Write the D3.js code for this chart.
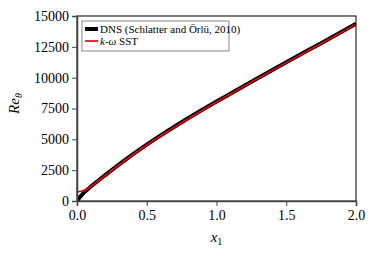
<!DOCTYPE html>
<html>
<head>
<meta charset="utf-8">
<script src="https://cdn.jsdelivr.net/npm/d3@7"></script>
<style>
  body { margin: 0; background: #fff; }
  text { font-family: "Liberation Serif", "Times New Roman", serif; }
</style>
</head>
<body>
<div class="chart"></div>
<script>
// DNS (Schlatter and Orlu, 2010)
const dnsX  = [0, 0.02, 0.05, 0.1, 0.2, 0.3, 0.4, 0.5, 0.6, 0.75, 1.0, 1.25, 1.5, 1.75, 2.0];
const dnsRe = [0, 300, 680, 1170, 2080, 2950, 3780, 4570, 5320, 6385, 8060, 9670, 11250, 12800, 14370];
// k-omega SST
const sstX  = [0, 0.03, 0.06, 0.1, 0.15, 0.2, 0.3, 0.4, 0.5, 0.6, 0.75, 1.0, 1.25, 1.5, 1.75, 2.0];
const sstRe = [740, 790, 900, 1180, 1620, 2060, 2920, 3750, 4540, 5290, 6350, 8030, 9640, 11220, 12770, 14340];

const xTicks = [0, 0.5, 1.0, 1.5, 2.0];
const yTicks = [0, 2500, 5000, 7500, 10000, 12500, 15000];

const margin = ({top: 16, right: 21, bottom: 55, left: 77});
const width = 377 - margin.left - margin.right,
      height = 256 - margin.top - margin.bottom;

const svg = d3.select('.chart').append('svg')
    .attr("width", 377)
    .attr("height", 256)
  .append("g")
    .attr("transform", "translate(" + margin.left + "," + margin.top + ")");

const xScale = d3.scaleLinear().domain([0, 2]).range([0, width]);
const yScale = d3.scaleLinear().domain([0, 15000]).range([height, 0]);

const line = d3.line().x(d => xScale(d[0])).y(d => yScale(d[1])).curve(d3.curveMonotoneX);

svg.append("defs").append("clipPath").attr("id", "clip")
  .append("rect").attr("width", width).attr("height", height);

svg.append("path")
  .datum(dnsX.map((x, i) => [x, dnsRe[i]]))
  .attr("clip-path", "url(#clip)")
  .attr("fill", "none")
  .attr("stroke", "#000")
  .attr("stroke-width", 4)
  .attr("d", line);

svg.append("path")
  .datum(sstX.map((x, i) => [x, sstRe[i]]))
  .attr("clip-path", "url(#clip)")
  .attr("fill", "none")
  .attr("stroke", "#e8000b")
  .attr("stroke-width", 1.7)
  .attr("d", line);

// frame
svg.append("rect")
  .attr("width", width).attr("height", height)
  .attr("fill", "none").attr("stroke", "#000").attr("stroke-width", 1);

const xAxis = d3.axisBottom(xScale).tickValues(xTicks).tickFormat(d3.format(".1f")).tickSize(5).tickPadding(4);
const yAxis = d3.axisLeft(yScale).tickValues(yTicks).tickFormat(d => d).tickSize(5).tickPadding(3);

svg.append("g")
  .attr("class", "axis x-axis")
  .attr("transform", `translate(0, ${height})`)
  .call(xAxis);

svg.append("g")
  .attr("class", "axis y-axis")
  .call(yAxis);

svg.selectAll(".axis").attr("font-family", "Liberation Serif, Times New Roman, serif");
svg.selectAll(".axis .domain").attr("stroke", "#444").attr("stroke-width", 1.6);
svg.selectAll(".axis line").attr("stroke", "#444").attr("stroke-width", 1);
svg.selectAll(".axis text").attr("font-size", 14).attr("fill", "#000")
  .attr("font-family", "Liberation Serif, Times New Roman, serif");

// axis labels
svg.append("text")
  .attr("x", width / 2)
  .attr("y", height + 41)
  .attr("text-anchor", "middle")
  .attr("font-size", 15)
  .attr("font-style", "italic")
  .html('x<tspan font-style="normal" font-size="10" dy="3">1</tspan>');

svg.append("text")
  .attr("transform", `translate(${-58}, ${height / 2 - 5}) rotate(-90)`)
  .attr("text-anchor", "middle")
  .attr("font-size", 15)
  .attr("font-style", "italic")
  .html('Re<tspan font-size="10" dy="3">θ</tspan>');

// legend
const legendItems = [
  {color: "#000", w: 4, label: 'DNS (Schlatter and Örlü, 2010)'},
  {color: "#e8000b", w: 1.7, label: '<tspan font-style="italic">k</tspan>-<tspan font-style="italic">ω</tspan> SST'}
];
const lg = svg.append("g").attr("transform", "translate(5, 5)");
lg.append("rect")
  .attr("width", 147).attr("height", 30)
  .attr("fill", "#fff").attr("stroke", "#666").attr("stroke-width", 0.8);
lg.selectAll("line.leg")
  .data(legendItems)
  .enter()
  .append("line")
  .attr("x1", 3).attr("x2", 16)
  .attr("y1", (d, i) => 8 + i * 12).attr("y2", (d, i) => 8 + i * 12)
  .attr("stroke", d => d.color)
  .attr("stroke-width", d => d.w);
lg.selectAll("text.leg")
  .data(legendItems)
  .enter()
  .append("text")
  .attr("x", 18)
  .attr("y", (d, i) => 12 + i * 12)
  .attr("font-size", 11)
  .html(d => d.label);
</script>
</body>
</html>
